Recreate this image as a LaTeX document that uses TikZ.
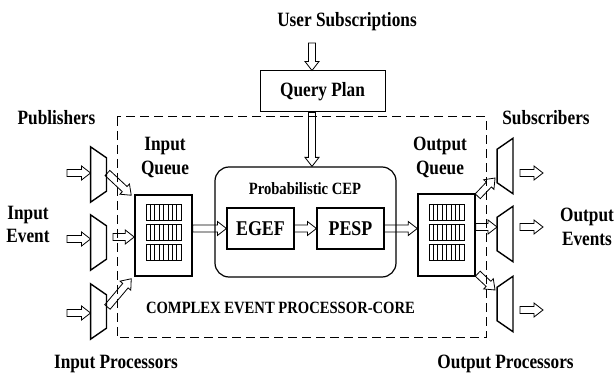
\documentclass[tikz,border=0pt]{standalone}
\usepackage{fontspec}
\setmainfont{Liberation Serif}[FakeStretch=0.85]
\usetikzlibrary{calc}
\newcommand\lblfont{\fontsize{20.3}{23.5}\selectfont\bfseries}
\newcommand\boxfont{\fontsize{21}{24}\selectfont\bfseries}
\newcommand\smallfont{\fontsize{17.2}{20}\selectfont\bfseries}
\tikzset{
  lbl/.style={font=\lblfont, inner sep=0pt, align=center},
  plainbox/.style={draw, line width=1.1pt, inner sep=0pt},
  ghost/.style={inner sep=0pt, minimum width=15.5pt, minimum height=55pt},
  muxshape/.style={draw, line width=1.4pt, line join=miter},
  bar/.style={draw, line width=0.6pt},
  blk/.style={draw, line width=0.8pt, line join=miter, to path={
    let \p1=(\tikztostart), \p2=(\tikztotarget),
        \n1={veclen(\x2-\x1,\y2-\y1)} in
    ($(\p1)!3.5pt!90:(\p2)$)
    -- ($(\p1)!\n1-9pt!(\p2)!3.5pt!90:(\p2)$)
    -- ($(\p1)!\n1-9pt!(\p2)!7pt!90:(\p2)$)
    -- (\p2)
    -- ($(\p1)!\n1-9pt!(\p2)!7pt!-90:(\p2)$)
    -- ($(\p1)!\n1-9pt!(\p2)!3.5pt!-90:(\p2)$)
    -- ($(\p1)!3.5pt!-90:(\p2)$) -- cycle}},
  coredash/.style={draw, line width=1pt, dash pattern=on 9pt off 5pt}
}
\begin{document}
\begin{tikzpicture}[x=1pt,y=-1pt]
\useasboundingbox (0,0) rectangle (614,374);

% labels
\node[lbl] (us) at (347,22) {User Subscriptions};
\node[lbl] (pub) at (56.5,118) {Publishers};
\node[lbl] (sub) at (546,118) {Subscribers};
\node[lbl] (iqlbl) at (165,157.5) {Input\\Queue};
\node[lbl] (oqlbl) at (440,157.5) {Output\\Queue};
\node[lbl] (ievt) at (28,224.5) {Input\\Event};
\node[lbl] (oevt) at (587,227) {Output\\Events};
\node[lbl] (iproc) at (116,364) {Input Processors};
\node[lbl] (oproc) at (505.5,364) {Output Processors};
\node[lbl, font=\smallfont] (core) at (280.5,308) {COMPLEX EVENT PROCESSOR-CORE};

% query plan
\node[plainbox, line width=1pt, minimum width=125pt, minimum height=41pt, font=\lblfont] (qp) at (322.5,91.5) {Query Plan};

% CEP
\node[draw, line width=1.2pt, rounded corners=14pt, minimum width=181pt, minimum height=110pt, inner sep=0pt] (cep) at (305.5,222) {};
\node[lbl, font=\smallfont] (pcep) at (305,188.5) {Probabilistic CEP};
\node[plainbox, minimum width=67pt, minimum height=41pt, font=\boxfont] (egef) at (260.5,228.5) {EGEF};
\node[plainbox, minimum width=67pt, minimum height=41pt, font=\boxfont] (pesp) at (350.5,228.5) {PESP};

% queues
\node[draw, line width=1.5pt, minimum width=57pt, minimum height=81pt, inner sep=0pt] (iq) at (163.5,235.5) {};
\node[draw, line width=1.5pt, minimum width=57pt, minimum height=82pt, inner sep=0pt] (oq) at (446.5,235) {};
\foreach \q in {iq,oq}{
  \foreach \r in {-23,-3,17}{
    \draw[bar] ($(\q.center)+(-17.5,\r-8)$) rectangle ++(35,16);
    \foreach \i in {1,...,7}{
      \draw[bar] ($(\q.center)+(-17.5+\i*4.375,\r-8)$) -- ++(0,16);
    }
  }
}

% muxes
\node[ghost] (im1) at (98.5,174.5) {};
\node[ghost] (im2) at (98.5,242.5) {};
\node[ghost] (im3) at (98.5,311.5) {};
\node[ghost] (om1) at (505,166) {};
\node[ghost] (om2) at (505,234) {};
\node[ghost] (om3) at (505,304) {};
\foreach \m in {im1,im2,im3}{
  \draw[muxshape] (\m.north west) -- ([yshift=-11pt]\m.north east)
    -- ([yshift=11pt]\m.south east) -- (\m.south west) -- cycle;
}
\foreach \m in {om1,om2,om3}{
  \draw[muxshape] (\m.north east) -- (\m.south east)
    -- ([yshift=11pt]\m.south west) -- ([yshift=-11pt]\m.north west) -- cycle;
}

% free ends
\coordinate (ia1) at (67,173);
\coordinate (ia2) at (67,239);
\coordinate (ia3) at (67,313);
\coordinate (mid) at (113,237);
\coordinate (os1) at (520,173);
\coordinate (os2) at (520,227);
\coordinate (os3) at (520,310);
\coordinate (oe1) at (543,173);
\coordinate (oe2) at (543,227);
\coordinate (oe3) at (543,310);
\coordinate (ua) at (312,43);

% arrows
\draw[blk] (ia1) to (ia1 -| im1.west);
\draw[blk] (ia2) to (ia2 -| im2.west);
\draw[blk] (ia3) to (ia3 -| im3.west);
\draw[blk] ([xshift=1pt,yshift=1.5pt]im1.east) to ([xshift=-3pt,yshift=-1pt]iq.north west);
\draw[blk] (mid) to (mid -| iq.west);
\draw[blk] ([xshift=1pt,yshift=4.5pt]im3.east) to ([xshift=-3pt,yshift=-2pt]iq.south west);

\draw[blk] (egef.west -| iq.east) to (egef.west);
\draw[blk] (egef.east) to (pesp.west);
\draw[blk] (pesp.east) to (pesp.east -| oq.west);

\draw[blk] ([xshift=2pt,yshift=-3pt]oq.north east) to ([xshift=-2pt,yshift=-12pt]om1.west);
\draw[blk] ([yshift=8pt]oq.east) to ([yshift=7pt]om2.west);
\draw[blk] ([xshift=2pt,yshift=3pt]oq.south east) to ([xshift=-2pt,yshift=14pt]om3.west);

\draw[blk] (os1) to (oe1);
\draw[blk] (os2) to (oe2);
\draw[blk] (os3) to (oe3);

\draw[blk] (ua) to (ua |- qp.north);
\draw[blk] ([xshift=-10.5pt]qp.south) to ([xshift=-10.5pt]qp.south |- cep.north);

% core boundary
\draw[coredash] (117,117) rectangle (486,338);
\end{tikzpicture}
\end{document}
